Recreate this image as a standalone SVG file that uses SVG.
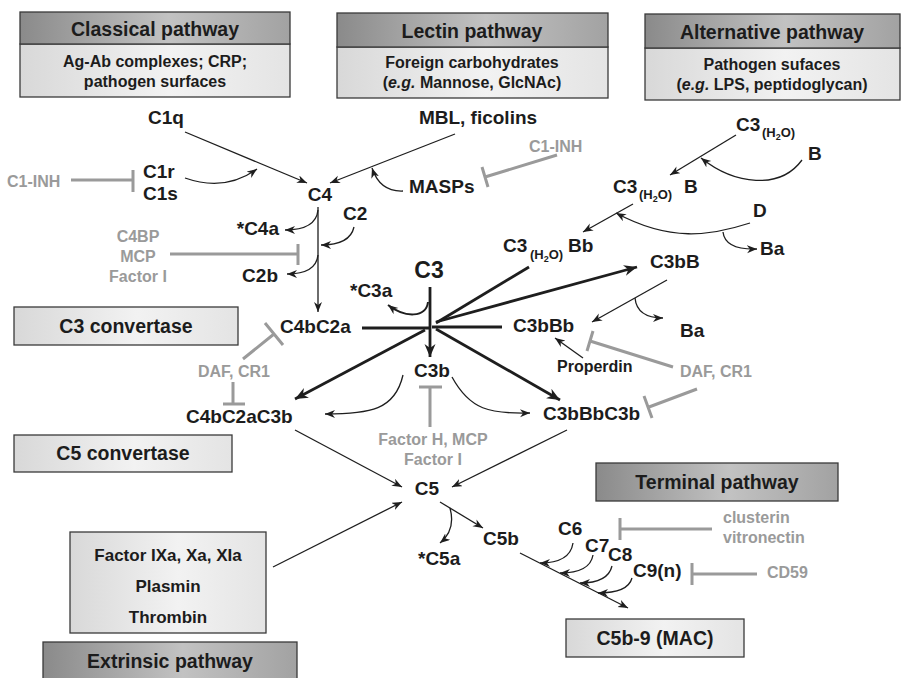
<svg xmlns="http://www.w3.org/2000/svg" width="908" height="678" viewBox="0 0 908 678">
<defs>
<linearGradient id="gDark" x1="0" y1="0" x2="1" y2="0">
<stop offset="0" stop-color="#8a8a8a"/><stop offset="0.55" stop-color="#c2c2c2"/><stop offset="1" stop-color="#a2a2a2"/>
</linearGradient>
<linearGradient id="gLight" x1="0" y1="0" x2="1" y2="0">
<stop offset="0" stop-color="#d8d8d8"/><stop offset="0.55" stop-color="#f2f2f2"/><stop offset="1" stop-color="#e4e4e4"/>
</linearGradient>
<marker id="ah" markerUnits="userSpaceOnUse" markerWidth="12" markerHeight="10" refX="10" refY="4" orient="auto">
<path d="M0,0 L10,4 L0,8 L3,4 z" fill="#1e1e1e"/>
</marker>
<marker id="ahT" markerUnits="userSpaceOnUse" markerWidth="16" markerHeight="12" refX="13" refY="5.5" orient="auto">
<path d="M0,0 L13,5.5 L0,11 L4,5.5 z" fill="#1e1e1e"/>
</marker>
<style>
.dark{fill:url(#gDark);stroke:#3a3a3a;stroke-width:1.3}
.light{fill:url(#gLight);stroke:#3a3a3a;stroke-width:1.3}
text{font-family:"Liberation Sans",Arial,Helvetica,sans-serif;font-weight:bold;fill:#1c1c1c}
.ttl{font-size:19.5px;text-anchor:middle}
.sub{font-size:16px;text-anchor:middle}
.n{font-size:19px}
.big{font-size:23px;text-anchor:middle}
.g{font-size:16px;fill:#9a9a9a}
.s{font-size:13px}
.thin{fill:none;stroke:#1e1e1e;stroke-width:1.3}
.thick{fill:none;stroke:#1e1e1e;stroke-width:2.8}
.inh{fill:none;stroke:#9a9a9a;stroke-width:3}
.m{text-anchor:middle}
.e{text-anchor:end}
</style>
</defs>

<!-- Pathway header boxes -->
<g id="classical">
<rect class="light" x="20" y="44" width="270" height="53"/>
<rect class="dark" x="20" y="12" width="270" height="32"/>
<text class="ttl" x="155" y="36">Classical pathway</text>
<text class="sub" x="155" y="67">Ag-Ab complexes; CRP;</text>
<text class="sub" x="155" y="87">pathogen surfaces</text>
</g>
<g id="lectin">
<rect class="light" x="337" y="47" width="271" height="51"/>
<rect class="dark" x="337" y="13" width="271" height="34"/>
<text class="ttl" x="472" y="38">Lectin pathway</text>
<text class="sub" x="472" y="68">Foreign carbohydrates</text>
<text class="sub" x="472" y="88">(<tspan font-style="italic">e.g.</tspan> Mannose, GlcNAc)</text>
</g>
<g id="alternative">
<rect class="light" x="645" y="48" width="255" height="52"/>
<rect class="dark" x="645" y="14" width="255" height="34"/>
<text class="ttl" x="772" y="39">Alternative pathway</text>
<text class="sub" x="772" y="70">Pathogen sufaces</text>
<text class="sub" x="772" y="90">(<tspan font-style="italic">e.g.</tspan> LPS, peptidoglycan)</text>
</g>
<g id="c3conv"><rect class="light" x="14" y="307" width="224" height="38"/><text class="ttl" x="126" y="333">C3 convertase</text></g>
<g id="c5conv"><rect class="light" x="14" y="435" width="218" height="37"/><text class="ttl" x="123" y="460">C5 convertase</text></g>
<g id="factors">
<rect class="light" x="70" y="532" width="196" height="101"/>
<text class="sub" x="168" y="561" style="font-size:17px">Factor IXa, Xa, XIa</text>
<text class="sub" x="168" y="592" style="font-size:17px">Plasmin</text>
<text class="sub" x="168" y="623" style="font-size:17px">Thrombin</text>
</g>
<g id="extrinsic"><rect class="dark" x="43" y="642" width="254" height="42"/><text class="ttl" x="170" y="668">Extrinsic pathway</text></g>
<g id="terminal"><rect class="dark" x="596" y="463" width="242" height="38"/><text class="ttl" x="717" y="489">Terminal pathway</text></g>
<g id="mac"><rect class="light" x="566" y="619" width="178" height="38"/><text class="ttl" x="655" y="645">C5b-9 (MAC)</text></g>

<!-- Nodes -->
<g id="C1q"><text class="n m" x="166" y="124">C1q</text></g>
<g id="C1rs"><text class="n" x="143" y="178">C1r</text><text class="n" x="143" y="200">C1s</text></g>
<g id="C1INH1"><text class="g" x="7" y="187">C1-INH</text></g>
<g id="C4"><text class="n m" x="320" y="201">C4</text></g>
<g id="MBL"><text class="n m" x="478" y="124">MBL, ficolins</text></g>
<g id="MASPs"><text class="n" x="409" y="193">MASPs</text></g>
<g id="C1INH2"><text class="g" x="529" y="152">C1-INH</text></g>
<g id="C4a"><text class="n e" x="279" y="235">*C4a</text></g>
<g id="C2"><text class="n" x="343" y="220">C2</text></g>
<g id="C2b"><text class="n e" x="278" y="282">C2b</text></g>
<g id="C4BP"><text class="g m" x="138" y="242">C4BP</text><text class="g m" x="138" y="262">MCP</text><text class="g m" x="138" y="282">Factor I</text></g>
<g id="C3a"><text class="n" x="350" y="297">*C3a</text></g>
<g id="C3"><text class="big" x="429" y="278">C3</text></g>
<g id="C4bC2a"><text class="n" x="280" y="333">C4bC2a</text></g>
<g id="C3bBb"><text class="n" x="513" y="332">C3bBb</text></g>
<g id="C3b"><text class="n m" x="432" y="377">C3b</text></g>
<g id="C3H2OBb"><text class="n" x="503" y="252">C3</text><text class="s" x="530" y="259">(H<tspan font-size="9" dy="3">2</tspan><tspan dy="-3">O)</tspan></text><text class="n" x="568" y="252">Bb</text></g>
<g id="C3H2O"><text class="n" x="736" y="131">C3</text><text class="s" x="762" y="137">(H<tspan font-size="9" dy="3">2</tspan><tspan dy="-3">O)</tspan></text></g>
<g id="B"><text class="n" x="808" y="160">B</text></g>
<g id="C3H2OB"><text class="n" x="613" y="193">C3</text><text class="s" x="639" y="199">(H<tspan font-size="9" dy="3">2</tspan><tspan dy="-3">O)</tspan></text><text class="n" x="684" y="193">B</text></g>
<g id="D"><text class="n" x="753" y="217">D</text></g>
<g id="Ba1"><text class="n" x="760" y="255">Ba</text></g>
<g id="C3bB"><text class="n" x="650" y="268">C3bB</text></g>
<g id="Ba2"><text class="n" x="680" y="337">Ba</text></g>
<g id="Properdin"><text class="n" x="557" y="372" style="font-size:16px">Properdin</text></g>
<g id="DAFCR1r"><text class="g" x="680" y="377">DAF, CR1</text></g>
<g id="DAFCR1l"><text class="g" x="198" y="377">DAF, CR1</text></g>
<g id="C4bC2aC3b"><text class="n" x="186" y="423">C4bC2aC3b</text></g>
<g id="C3bBbC3b"><text class="n" x="543" y="420">C3bBbC3b</text></g>
<g id="FactorH"><text class="g m" x="433" y="445">Factor H, MCP</text><text class="g m" x="433" y="465">Factor I</text></g>
<g id="C5"><text class="n m" x="427" y="495">C5</text></g>
<g id="C5a"><text class="n" x="418" y="565">*C5a</text></g>
<g id="C5b"><text class="n" x="483" y="545">C5b</text></g>
<g id="C6"><text class="n" x="558" y="535">C6</text></g>
<g id="C7"><text class="n" x="585" y="552">C7</text></g>
<g id="C8"><text class="n" x="608" y="561">C8</text></g>
<g id="C9"><text class="n" x="633" y="577">C9(n)</text></g>
<g id="clusterin"><text class="g" x="723" y="523">clusterin</text><text class="g" x="723" y="543">vitronectin</text></g>
<g id="CD59"><text class="g" x="767" y="578">CD59</text></g>

<!-- Connectors -->
<g id="connectors">
<path class="thin" marker-end="url(#ah)" d="M185,132 L307,183"/>
<path class="thin" marker-end="url(#ah)" d="M185,178 Q225,192 257,169"/>
<path class="thin" marker-end="url(#ah)" d="M455,134 L330,183"/>
<path class="thin" marker-end="url(#ah)" d="M403,191 Q380,192 372,168"/>
<path class="thin" marker-end="url(#ah)" d="M318,207 L318,312"/>
<path class="thin" marker-end="url(#ah)" d="M318,210 Q316,230 285,230"/>
<path class="thin" marker-end="url(#ah)" d="M354,227 Q350,245 321,245"/>
<path class="thin" marker-end="url(#ah)" d="M318,255 Q316,274 287,274"/>
<path class="thin" marker-end="url(#ah)" d="M736,135 L670,175"/>
<path class="thin" marker-end="url(#ah)" d="M802,160 C780,190 735,185 701,158"/>
<path class="thin" marker-end="url(#ah)" d="M633,204 L583,232"/>
<path class="thin" marker-end="url(#ah)" d="M750,223 C710,236 670,242 616,213"/>
<path class="thin" marker-end="url(#ah)" d="M723,232 Q725,250 757,249"/>
<path class="thin" marker-end="url(#ah)" d="M667,280 L592,322"/>
<path class="thin" marker-end="url(#ah)" d="M635,298 Q637,318 663,318"/>
<path class="thin" marker-end="url(#ah)" d="M583,358 L555,338"/>
<path class="thin" marker-end="url(#ah)" d="M403,375 C395,410 370,414 325,414"/>
<path class="thin" marker-end="url(#ah)" d="M452,377 C470,410 490,414 530,413"/>
<path class="thin" marker-end="url(#ah)" d="M295,430 L402,487"/>
<path class="thin" marker-end="url(#ah)" d="M567,430 L452,487"/>
<path class="thin" marker-end="url(#ah)" d="M273,567 L402,502"/>
<path class="thin" marker-end="url(#ah)" d="M440,502 L483,528"/>
<path class="thin" marker-end="url(#ah)" d="M450,508 Q456,530 440,543"/>
<path class="thin" marker-end="url(#ah)" d="M520,553 L628,608"/>
<path class="thin" marker-end="url(#ah)" d="M573,543 Q570,563 540,563"/>
<path class="thin" marker-end="url(#ah)" d="M593,555 Q590,573 560,573"/>
<path class="thin" marker-end="url(#ah)" d="M612,566 Q608,583 580,583"/>
<path class="thin" marker-end="url(#ah)" d="M632,578 Q628,593 598,593"/>

<path class="thick" marker-end="url(#ahT)" d="M430,287 L430,357"/>
<path class="thick" style="stroke-width:2" marker-end="url(#ah)" d="M428,302 C426,318 405,318 388,305"/>
<path class="thick" d="M362,328 L430,328"/>
<path class="thick" d="M529,267 L436,323"/>
<path class="thick" d="M432,327 L502,327"/>
<path class="thick" marker-end="url(#ahT)" d="M436,322 L637,267"/>
<path class="thick" marker-end="url(#ahT)" d="M425,330 L295,399"/>
<path class="thick" marker-end="url(#ahT)" d="M436,329 L560,400"/>

<path class="inh" d="M71,180 L133,180 M133,170 L133,192"/>
<path class="inh" d="M557,155 L485,177 M482,167 L488,187"/>
<path class="inh" d="M170,254 L298,254 M298,244 L298,265"/>
<path class="inh" d="M243,359 L274,334 M265,323 L283,345"/>
<path class="inh" d="M233,382 L233,404 M223,404 L245,404"/>
<path class="inh" d="M430,427 L430,387 M419,387 L442,387"/>
<path class="inh" d="M673,367 L590,341 M593,331 L587,351"/>
<path class="inh" d="M697,389 L649,407 M644,396 L652,418"/>
<path class="inh" d="M712,529 L620,529 M620,518 L620,540"/>
<path class="inh" d="M757,574 L692,574 M692,563 L692,585"/>
</g>
</svg>
